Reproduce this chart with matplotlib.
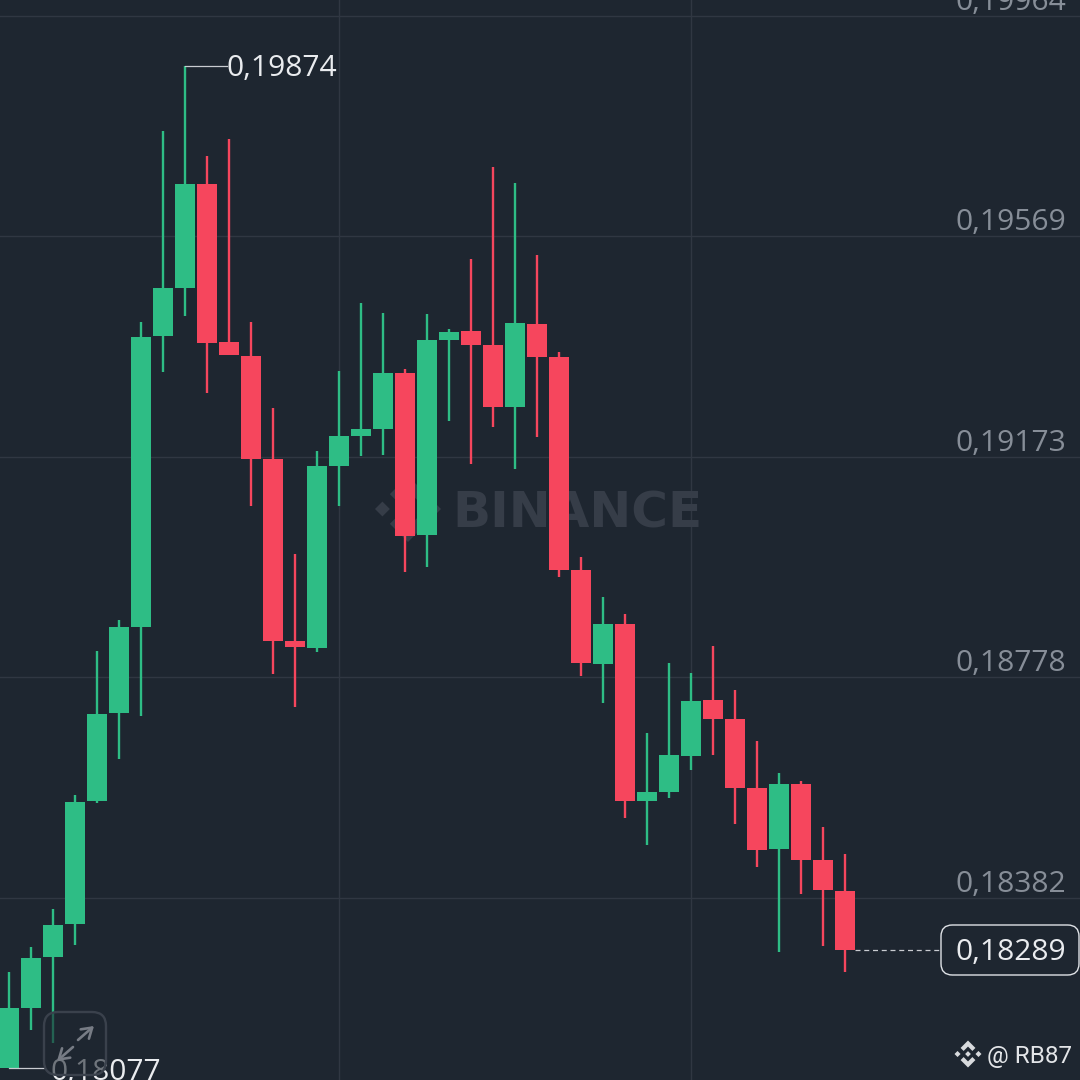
import matplotlib
matplotlib.use("Agg")
import matplotlib.pyplot as plt
from matplotlib.patches import Polygon, FancyBboxPatch, FancyArrowPatch

# Prices (units of 1e-5)
opens = [18077, 18185, 18276, 18335, 18556, 18714, 18868, 19390, 19476, 19662, 19379, 19354, 19169,
         18843, 18830, 19157, 19210, 19223, 19323, 19033, 19383, 19399, 19374, 19262, 19411, 19352,
         18970, 18802, 18873, 18556, 18572, 18637, 18737, 18703, 18579, 18470, 18586, 18450, 18395]
closes = [18185, 18274, 18334, 18554, 18712, 18868, 19388, 19476, 19662, 19377, 19356, 19169, 18843,
          18832, 19157, 19210, 19223, 19323, 19031, 19383, 19397, 19374, 19262, 19413, 19352, 18970,
          18803, 18873, 18556, 18572, 18638, 18735, 18703, 18579, 18468, 18586, 18450, 18396, 18289]
highs = [18249, 18294, 18362, 18567, 18825, 18880, 19415, 19757, 19874, 19712, 19743, 19415, 19261,
         18999, 19184, 19327, 19449, 19431, 19331, 19429, 19402, 19528, 19693, 19664, 19535, 19361,
         18993, 18922, 18891, 18678, 18803, 18785, 18834, 18755, 18664, 18606, 18592, 18509, 18461]
lows = [18077, 18145, 18122, 18298, 18552, 18631, 18708, 19325, 19426, 19288, 19356, 19085, 18784,
        18725, 18823, 19085, 19175, 19176, 18967, 18976, 19237, 19160, 19227, 19151, 19209, 18958,
        18780, 18732, 18525, 18477, 18561, 18612, 18638, 18515, 18438, 18285, 18389, 18296, 18249]
grid_prices = [19964, 19569, 19173, 18778, 18382]
grid_labels = ["0,19964", "0,19569", "0,19173", "0,18778", "0,18382"]
vgrid_candles = [15, 31]
peak_label = "0,19874"
trough_label = "0,18077"
last_label = "0,18289"

BG = "#1E2630"
GREEN = "#2EBD85"
RED = "#F6465D"
GRID = "#303742"
AXTXT = "#878E98"
WHITE = "#EAECEF"
WM = "#363D48"
FONT = "Open Sans"
FS = 21.6

S = 1e-5
fig = plt.figure(figsize=(10.8, 10.8), dpi=100, facecolor=BG)
ax = fig.add_axes([0, 0, 1, 1], facecolor=BG)
ax.set_xlim(-9 / 22, 1071 / 22)
ax.set_ylim(18055.7 * S, 19992.2 * S)
ax.axis("off")
ax.patch.set_visible(False)


def px(x, y):
    return (x / 1080, 1 - y / 1080)


def logo(cx, cy, r, color, z):
    """Binance diamond mark centred at a pixel position, r = half extent in px."""
    u = r / 8.0
    parts = [
        [(0, -1.7), (1.7, 0), (0, 1.7), (-1.7, 0)],
        [(-8, 0), (-6.2, -1.8), (-4.4, 0), (-6.2, 1.8)],
        [(8, 0), (6.2, -1.8), (4.4, 0), (6.2, 1.8)],
        [(0, -8), (4.4, -3.6), (2.6, -1.8), (0, -4.4), (-2.6, -1.8), (-4.4, -3.6)],
        [(0, 8), (4.4, 3.6), (2.6, 1.8), (0, 4.4), (-2.6, 1.8), (-4.4, 3.6)],
    ]
    for p in parts:
        pts = [px(cx + a * u, cy + b * u) for a, b in p]
        fig.add_artist(Polygon(pts, closed=True, transform=fig.transFigure, fc=color, ec="none", zorder=z))


# Grid
for p in grid_prices:
    ax.axhline(p * S, color=GRID, lw=1.0, zorder=1)
for c in vgrid_candles:
    ax.axvline(c, color=GRID, lw=1.0, zorder=1)

# Watermark
logo(408, 509, 33, WM, -1)
ax.text(452 / 1080, 1 - 527 / 1080, "BINANCE", transform=ax.transAxes, ha="left", va="baseline",
        family="DejaVu Sans", weight="bold", fontsize=36, color=WM, zorder=1.5)

# Candles
for i, (o, c, h, l) in enumerate(zip(opens, closes, highs, lows)):
    col = GREEN if c >= o else RED
    ax.vlines(i, l * S, h * S, color=col, lw=1.7, zorder=3)
    ax.bar(i, abs(c - o) * S, bottom=min(o, c) * S, width=0.89, color=col, lw=0, zorder=3)

# Axis labels
for p, t in zip(grid_prices, grid_labels):
    ax.annotate(t, xy=(1066 / 1080, p * S), xycoords=("axes fraction", "data"), xytext=(0, 4.3),
                textcoords="offset points", ha="right", va="baseline", family=FONT, fontsize=FS, color=AXTXT, zorder=4)

# Peak marker
ax.plot([8, 8 + 42 / 22], [19874 * S, 19874 * S], color="#C9CCD1", lw=0.9, zorder=4)
ax.text(227 / 1080, 1 - 76 / 1080, peak_label, transform=ax.transAxes, ha="left", va="baseline",
        family=FONT, fontsize=FS, color=WHITE, zorder=4)

# Trough marker
ax.plot([0, 36 / 22], [18077 * S, 18077 * S], color="#C9CCD1", lw=0.9, zorder=4)
ax.text(50 / 1080, 0, trough_label, transform=ax.transAxes, ha="left", va="baseline",
        family=FONT, fontsize=FS, color=WHITE, zorder=4, clip_on=False)

# Last price
ax.plot([38 + 10 / 22, 38 + 95 / 22], [18289 * S, 18289 * S], color="#C9CCD1", lw=0.9, ls=(0, (4, 3)), zorder=4)
fig.add_artist(FancyBboxPatch(px(941, 975), 138 / 1080, 50 / 1080, boxstyle="round,pad=0,rounding_size=0.0105",
                              transform=fig.transFigure, fc=BG, ec="#DFE2E6", lw=1.0, zorder=5))
fig.text(1066 / 1080, 1 - 960 / 1080, last_label, ha="right", va="baseline", family=FONT, fontsize=FS,
         color=WHITE, zorder=6)

# Expand button
fig.add_artist(FancyBboxPatch(px(44, 1075), 62 / 1080, 63 / 1080, boxstyle="round,pad=0,rounding_size=0.013",
                              transform=fig.transFigure, fc=(0.118, 0.149, 0.188, 0.6), ec="#3A414C", lw=1.7, zorder=7))
arrow = dict(arrowstyle="->,head_length=0.5,head_width=0.32", color="#777C85", lw=1.9, shrinkA=0, shrinkB=0)
for tip, tail in [((94, 1026), (78, 1040)), ((57, 1061), (73, 1047))]:
    fig.add_artist(FancyArrowPatch(px(*tail), px(*tip), transform=fig.transFigure,
                                   mutation_scale=14, zorder=8, **arrow))

# Attribution
logo(968, 1054, 13.5, "#D8DADD", 6)
fig.text(1072 / 1080, 1 - 1063 / 1080, "@ RB87", ha="right", va="baseline", family="Roboto", fontsize=17.5,
         color="#E3E5E8", zorder=6)

fig.savefig("out.png", dpi=100, facecolor=BG)
